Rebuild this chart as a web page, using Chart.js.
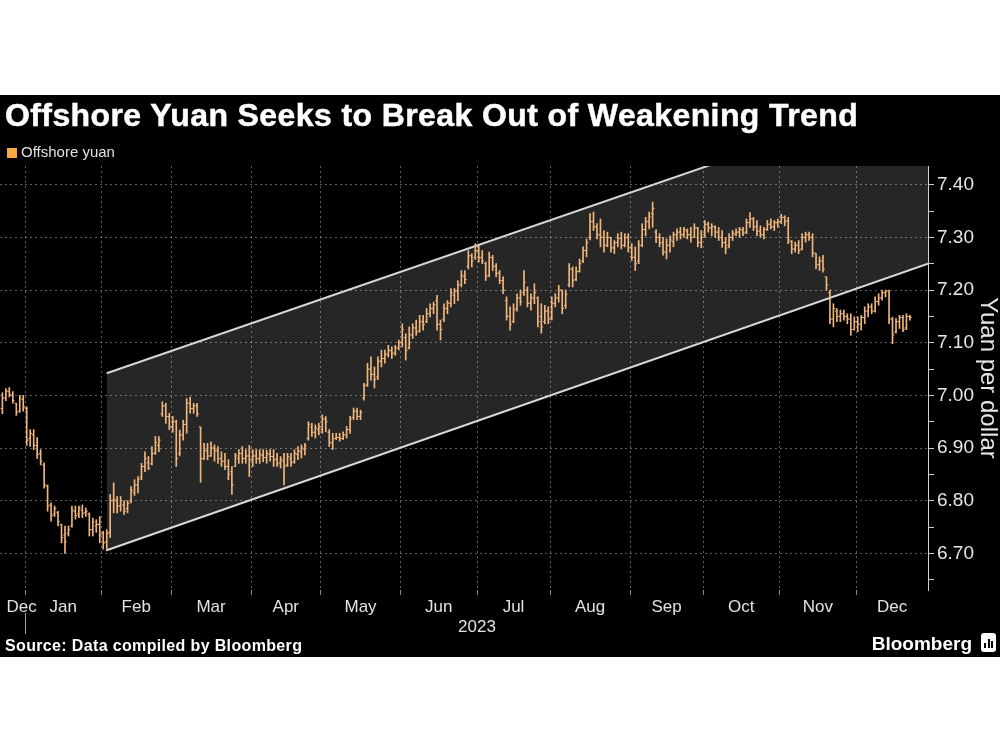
<!DOCTYPE html>
<html>
<head>
<meta charset="utf-8">
<script src="https://cdn.jsdelivr.net/npm/chart.js@4.4.1/dist/chart.umd.min.js"></script>
<style>
html,body{margin:0;padding:0;background:#fff;width:1000px;height:750px;overflow:hidden;font-family:"Liberation Sans",Arial,sans-serif;}
#band{position:absolute;left:0;top:95px;width:1000px;height:562px;background:#000;}
#title{position:absolute;left:5px;top:99px;color:#fff;font-weight:bold;font-size:32px;line-height:32px;letter-spacing:0.4px;-webkit-text-stroke:0.5px #fff;white-space:nowrap;}
#legend{position:absolute;left:7px;top:144px;color:#e0e0e0;font-size:15px;line-height:15px;white-space:nowrap;}
#legend .sw{display:inline-block;width:10px;height:10px;background:#f7a845;margin-right:4px;vertical-align:-1px;}
#source{position:absolute;left:5px;top:638px;color:#fff;font-weight:bold;font-size:16px;line-height:16px;letter-spacing:0.35px;white-space:nowrap;}
#brand{position:absolute;right:28px;top:634px;color:#fff;font-weight:bold;font-size:19px;line-height:19px;white-space:nowrap;}
#logo{position:absolute;left:981px;top:633px;width:15px;height:19px;background:#fff;border-radius:3px;}
#logo i{position:absolute;bottom:4px;width:2px;background:#000;}
canvas{position:absolute;left:0;top:0;}
</style>
</head>
<body>
<div id="band"></div>
<canvas id="c" width="1000" height="750"></canvas>
<div id="title">Offshore Yuan Seeks to Break Out of Weakening Trend</div>
<div id="legend"><span class="sw"></span>Offshore yuan</div>
<div id="source">Source: Data compiled by Bloomberg</div>
<div id="brand">Bloomberg</div>
<div id="logo"><i style="left:3px;height:5px"></i><i style="left:6.5px;height:9px"></i><i style="left:10px;height:7px"></i></div>
<script>
// ---- data (daily offshore yuan per dollar, trading days from 2022-12-22 to 2023-12-22) ----
const startDate = '2022-12-22';
const opens = [
6.975,6.995,7.008,7.000,6.985,6.970,6.992,6.975,6.918,6.925,
6.905,6.890,6.868,6.828,6.792,6.775,6.778,6.755,6.735,6.738,
6.752,6.780,6.775,6.782,6.778,6.775,6.745,6.752,6.755,6.738,
6.722,6.740,6.800,6.800,6.790,6.792,6.785,6.800,6.815,6.830,
6.845,6.865,6.872,6.870,6.890,6.905,6.965,6.980,6.960,6.940,
6.950,6.890,6.925,6.945,6.985,6.975,6.980,6.940,6.880,6.895,
6.885,6.900,6.895,6.880,6.875,6.865,6.855,6.865,6.880,6.890,
6.880,6.885,6.878,6.885,6.880,6.886,6.882,6.888,6.884,6.878,
6.872,6.875,6.868,6.880,6.874,6.888,6.893,6.898,6.918,6.940,
6.930,6.935,6.935,6.955,6.930,6.910,6.918,6.920,6.918,6.925,
6.935,6.958,6.970,6.960,6.995,7.020,7.050,7.040,7.035,7.065,
7.070,7.078,7.085,7.080,7.090,7.100,7.110,7.090,7.115,7.128,
7.122,7.140,7.140,7.155,7.165,7.180,7.135,7.145,7.165,7.175,
7.190,7.198,7.210,7.225,7.245,7.265,7.262,7.275,7.262,7.250,
7.228,7.262,7.245,7.232,7.218,7.180,7.150,7.140,7.165,7.185,
7.195,7.200,7.175,7.185,7.185,7.150,7.140,7.160,7.145,7.175,
7.185,7.200,7.170,7.210,7.240,7.220,7.235,7.255,7.275,7.300,
7.330,7.320,7.305,7.300,7.285,7.300,7.280,7.290,7.298,7.285,
7.300,7.280,7.262,7.255,7.285,7.315,7.330,7.345,7.310,7.300,
7.290,7.272,7.285,7.292,7.305,7.310,7.305,7.312,7.305,7.300,
7.318,7.290,7.305,7.325,7.318,7.320,7.310,7.300,7.290,7.285,
7.300,7.306,7.310,7.314,7.310,7.328,7.335,7.320,7.312,7.305,
7.315,7.325,7.320,7.328,7.330,7.338,7.332,7.292,7.278,7.285,
7.278,7.300,7.305,7.300,7.270,7.248,7.255,7.225,7.195,7.145,
7.160,7.150,7.155,7.150,7.145,7.125,7.140,7.135,7.148,7.160,
7.168,7.160,7.178,7.185,7.195,7.198,7.145,7.120,7.140,7.148,
7.128,7.150];
const highs = [
7.005,7.013,7.015,7.007,6.985,7.000,7.000,6.978,6.935,6.935,
6.920,6.897,6.872,6.830,6.796,6.790,6.780,6.755,6.752,6.752,
6.790,6.790,6.790,6.792,6.786,6.777,6.767,6.764,6.770,6.742,
6.745,6.812,6.834,6.808,6.808,6.800,6.800,6.827,6.840,6.846,
6.871,6.893,6.884,6.903,6.922,6.922,6.988,6.985,6.966,6.960,
6.953,6.934,6.953,6.994,6.997,6.985,6.985,6.940,6.909,6.909,
6.912,6.906,6.903,6.893,6.890,6.878,6.865,6.890,6.897,6.903,
6.897,6.905,6.897,6.897,6.897,6.897,6.896,6.897,6.897,6.890,
6.884,6.890,6.890,6.890,6.897,6.903,6.906,6.909,6.950,6.947,
6.944,6.947,6.963,6.960,6.935,6.928,6.928,6.928,6.931,6.941,
6.960,6.976,6.976,6.972,7.023,7.061,7.073,7.054,7.073,7.086,
7.086,7.095,7.092,7.095,7.105,7.136,7.117,7.130,7.136,7.143,
7.152,7.152,7.165,7.174,7.177,7.190,7.143,7.174,7.180,7.203,
7.203,7.218,7.237,7.237,7.275,7.269,7.288,7.285,7.275,7.253,
7.272,7.266,7.250,7.237,7.225,7.187,7.168,7.174,7.193,7.200,
7.237,7.206,7.193,7.212,7.187,7.174,7.171,7.168,7.187,7.193,
7.209,7.200,7.200,7.250,7.244,7.244,7.259,7.282,7.297,7.345,
7.348,7.326,7.335,7.313,7.310,7.300,7.294,7.307,7.310,7.307,
7.307,7.288,7.282,7.294,7.326,7.338,7.348,7.367,7.315,7.307,
7.300,7.297,7.303,7.310,7.316,7.319,7.319,7.316,7.319,7.326,
7.319,7.313,7.332,7.329,7.326,7.322,7.319,7.313,7.300,7.307,
7.313,7.316,7.319,7.319,7.335,7.347,7.338,7.332,7.322,7.319,
7.332,7.335,7.332,7.335,7.344,7.341,7.338,7.294,7.291,7.294,
7.307,7.310,7.310,7.307,7.269,7.263,7.266,7.225,7.200,7.174,
7.165,7.162,7.162,7.155,7.155,7.149,7.149,7.152,7.168,7.174,
7.174,7.187,7.193,7.200,7.200,7.200,7.148,7.146,7.152,7.152,
7.155,7.152];
const lows = [
6.965,6.990,6.997,6.985,6.962,6.968,6.970,6.905,6.903,6.897,
6.880,6.868,6.824,6.780,6.761,6.770,6.752,6.720,6.700,6.733,
6.750,6.765,6.768,6.768,6.770,6.733,6.733,6.740,6.720,6.708,
6.705,6.730,6.777,6.777,6.780,6.774,6.777,6.796,6.810,6.815,
6.840,6.855,6.859,6.868,6.888,6.893,6.960,6.947,6.935,6.930,
6.865,6.885,6.915,6.928,6.966,6.966,6.960,6.835,6.878,6.878,
6.884,6.875,6.871,6.865,6.859,6.840,6.812,6.865,6.871,6.871,
6.871,6.846,6.865,6.871,6.871,6.874,6.871,6.875,6.865,6.865,
6.862,6.830,6.865,6.865,6.871,6.878,6.881,6.887,6.915,6.922,
6.919,6.925,6.928,6.931,6.903,6.897,6.916,6.913,6.916,6.919,
6.928,6.954,6.954,6.954,6.991,7.017,7.029,7.014,7.030,7.054,
7.061,7.073,7.070,7.076,7.086,7.092,7.067,7.088,7.108,7.114,
7.120,7.124,7.138,7.149,7.155,7.124,7.105,7.140,7.155,7.168,
7.174,7.180,7.206,7.212,7.240,7.244,7.258,7.253,7.250,7.218,
7.225,7.237,7.225,7.212,7.193,7.143,7.124,7.138,7.160,7.171,
7.190,7.168,7.162,7.174,7.130,7.118,7.136,7.136,7.143,7.168,
7.177,7.155,7.165,7.206,7.206,7.218,7.234,7.252,7.263,7.295,
7.313,7.297,7.282,7.272,7.282,7.272,7.269,7.282,7.278,7.282,
7.272,7.256,7.237,7.250,7.282,7.303,7.316,7.319,7.290,7.282,
7.266,7.259,7.272,7.282,7.294,7.297,7.300,7.297,7.291,7.300,
7.282,7.280,7.300,7.310,7.303,7.300,7.294,7.281,7.269,7.280,
7.294,7.303,7.300,7.303,7.307,7.319,7.313,7.303,7.300,7.297,
7.313,7.316,7.313,7.319,7.326,7.322,7.288,7.269,7.272,7.269,
7.276,7.291,7.294,7.263,7.240,7.237,7.234,7.200,7.136,7.130,
7.140,7.140,7.143,7.136,7.114,7.124,7.121,7.124,7.136,7.149,
7.155,7.158,7.171,7.181,7.187,7.136,7.098,7.118,7.127,7.121,
7.125,7.143];
const closes = [
6.995,7.008,7.002,6.990,6.968,6.995,6.978,6.915,6.928,6.905,
6.888,6.875,6.830,6.790,6.772,6.785,6.760,6.730,6.722,6.745,
6.782,6.772,6.786,6.776,6.780,6.745,6.760,6.755,6.735,6.720,
6.738,6.800,6.802,6.790,6.800,6.780,6.795,6.820,6.830,6.840,
6.865,6.880,6.862,6.890,6.910,6.915,6.980,6.960,6.940,6.950,
6.880,6.925,6.945,6.985,6.975,6.980,6.965,6.880,6.895,6.885,
6.900,6.895,6.880,6.875,6.865,6.850,6.830,6.885,6.890,6.880,
6.885,6.878,6.885,6.880,6.888,6.882,6.890,6.884,6.878,6.870,
6.878,6.865,6.884,6.872,6.890,6.895,6.900,6.904,6.945,6.930,
6.938,6.940,6.955,6.950,6.910,6.918,6.920,6.918,6.925,6.935,
6.955,6.970,6.960,6.968,7.018,7.050,7.040,7.030,7.065,7.070,
7.078,7.085,7.080,7.090,7.100,7.125,7.085,7.115,7.128,7.120,
7.140,7.135,7.155,7.165,7.172,7.135,7.125,7.165,7.175,7.195,
7.198,7.210,7.228,7.220,7.265,7.255,7.275,7.262,7.255,7.225,
7.262,7.245,7.232,7.218,7.200,7.150,7.135,7.162,7.185,7.178,
7.215,7.175,7.185,7.195,7.140,7.130,7.160,7.145,7.175,7.185,
7.200,7.165,7.192,7.240,7.218,7.235,7.250,7.275,7.290,7.330,
7.320,7.305,7.300,7.285,7.300,7.280,7.290,7.298,7.285,7.300,
7.280,7.262,7.250,7.285,7.315,7.330,7.340,7.355,7.300,7.290,
7.272,7.285,7.295,7.305,7.310,7.305,7.315,7.305,7.300,7.318,
7.290,7.300,7.325,7.318,7.320,7.310,7.300,7.290,7.280,7.300,
7.308,7.310,7.315,7.308,7.328,7.335,7.320,7.312,7.305,7.315,
7.325,7.320,7.328,7.330,7.338,7.330,7.295,7.278,7.285,7.275,
7.300,7.305,7.300,7.270,7.248,7.255,7.240,7.210,7.145,7.165,
7.150,7.155,7.150,7.145,7.125,7.140,7.135,7.148,7.160,7.168,
7.160,7.178,7.185,7.195,7.198,7.145,7.115,7.140,7.148,7.125,
7.150,7.148];

// trend channel (trading-day index, value)
const channelX = [30, 266.2];
const channelLower = [6.706, 7.250];
const channelUpper = [7.042, 7.580];

// axis labels
const monthNames = ['Dec','Jan','Feb','Mar','Apr','May','Jun','Jul','Aug','Sep','Oct','Nov','Dec'];
const yearLabel = '2023';
const yTickValues = [6.65,6.70,6.75,6.80,6.85,6.90,6.95,7.00,7.05,7.10,7.15,7.20,7.25,7.30,7.35,7.40];
const xMin = -0.69, xMax = 266.2;
const yMin = 6.6305, yMax = 7.4355;

// ---- derived: trading-day calendar ----
const dates = [];
{
  let d = new Date(startDate + 'T00:00:00Z');
  while (dates.length < closes.length) {
    const wd = d.getUTCDay();
    if (wd !== 0 && wd !== 6) dates.push(new Date(d));
    d.setUTCDate(d.getUTCDate() + 1);
  }
}
const boundaries = [];
for (let i = 1; i < dates.length; i++) {
  if (dates[i].getUTCMonth() !== dates[i-1].getUTCMonth()) boundaries.push(i - 0.5);
}
const edges = [xMin, ...boundaries, xMax];
const labelMap = new Map();
const tickVals = [];
for (let m = 0; m < monthNames.length; m++) {
  let c = (edges[m] + edges[m+1]) / 2;
  if (m === 0) c = edges[1] - 1.0;
  labelMap.set(c, monthNames[m]);
  tickVals.push(c);
}
const boundarySet = new Set(boundaries);
boundaries.forEach(b => tickVals.push(b));
// year label under the middle month boundary of 2023
const yearTick = boundaries[6];
labelMap.set(yearTick, ['', yearLabel]);
tickVals.sort((a,b)=>a-b);

const FONT = '"Liberation Sans", Arial, sans-serif';
Chart.defaults.font.family = FONT;
const gridCol = 'rgba(255,255,255,0.36)';
const barCol = '#f0b67c';

const ohlcTicks = {
  id: 'ohlcTicks',
  afterDatasetsDraw(chart) {
    const {ctx, scales: {x, y}} = chart;
    ctx.save();
    ctx.fillStyle = barCol;
    for (let i = 0; i < closes.length; i++) {
      const px = x.getPixelForValue(i);
      ctx.fillRect(px - 1.8, y.getPixelForValue(opens[i]) - 0.5, 1.8, 1);
      ctx.fillRect(px, y.getPixelForValue(closes[i]) - 0.5, 1.8, 1);
    }
    // year separator below the axis
    const yx = x.getPixelForValue(boundaries[0]);
    ctx.fillStyle = '#9a9a9a';
    ctx.fillRect(Math.round(yx), chart.chartArea.bottom + 23, 1, 21);
    ctx.restore();
  }
};

new Chart(document.getElementById('c'), {
  type: 'bar',
  data: {
    datasets: [
      {
        type: 'line', label: 'lower', order: 2,
        data: channelX.map((v,k)=>({x:v, y:channelLower[k]})),
        borderColor: '#d6d6d6', borderWidth: 2, pointRadius: 0, fill: false
      },
      {
        type: 'line', label: 'upper', order: 1,
        data: channelX.map((v,k)=>({x:v, y:channelUpper[k]})),
        borderColor: '#d6d6d6', borderWidth: 2, pointRadius: 0,
        fill: '-1', backgroundColor: 'rgba(255,255,255,0.15)'
      },
      {
        type: 'bar', label: 'Offshore yuan', order: 0,
        data: closes.map((c,i)=>({x:i, y:[lows[i], highs[i]]})),
        backgroundColor: barCol, borderWidth: 0, barThickness: 1, grouped: false
      }
    ]
  },
  options: {
    responsive: false, animation: false, devicePixelRatio: 1,
    layout: { padding: { top: 166, left: 0, right: 0, bottom: 0 } },
    plugins: { legend: { display: false }, tooltip: { enabled: false } },
    scales: {
      x: {
        type: 'linear', min: xMin, max: xMax, offset: false,
        afterBuildTicks: s => { s.ticks = tickVals.map(v => ({value: v})); },
        afterFit: s => { s.height = 160; },
        grid: {
          offset: false, lineWidth: 1, drawTicks: true, tickLength: 5,
          color: c => (c.tick && boundarySet.has(c.tick.value)) ? gridCol : 'rgba(0,0,0,0)',
          tickColor: c => (c.tick && boundarySet.has(c.tick.value)) ? '#888' : 'rgba(0,0,0,0)'
        },
        border: { display: false, dash: [2, 3] },
        ticks: {
          autoSkip: false, maxRotation: 0, minRotation: 0, color: '#e2e2e2', padding: 2,
          font: { size: 17 },
          callback: v => labelMap.has(v) ? labelMap.get(v) : ''
        }
      },
      y: {
        position: 'right', min: yMin, max: yMax,
        afterBuildTicks: s => { s.ticks = yTickValues.map(v => ({value: v})); },
        afterFit: s => { s.width = 72; },
        grid: {
          lineWidth: 1, drawTicks: true, tickLength: 6, tickColor: '#d0d0d0',
          color: c => (c.tick && Math.abs(c.tick.value*10 - Math.round(c.tick.value*10)) < 1e-6) ? gridCol : 'rgba(0,0,0,0)'
        },
        border: { display: true, color: '#d0d0d0', width: 1, dash: [2, 3] },
        ticks: {
          color: '#e6e6e6', padding: 3, font: { size: 19 },
          callback: v => Math.abs(v*10 - Math.round(v*10)) < 1e-6 ? v.toFixed(2) : ''
        },
        title: { display: true, text: 'Yuan per dollar', color: '#e6e6e6', font: { size: 24, lineHeight: 1 }, padding: 0 }
      }
    }
  },
  plugins: [ohlcTicks]
});
</script>
</body>
</html>
